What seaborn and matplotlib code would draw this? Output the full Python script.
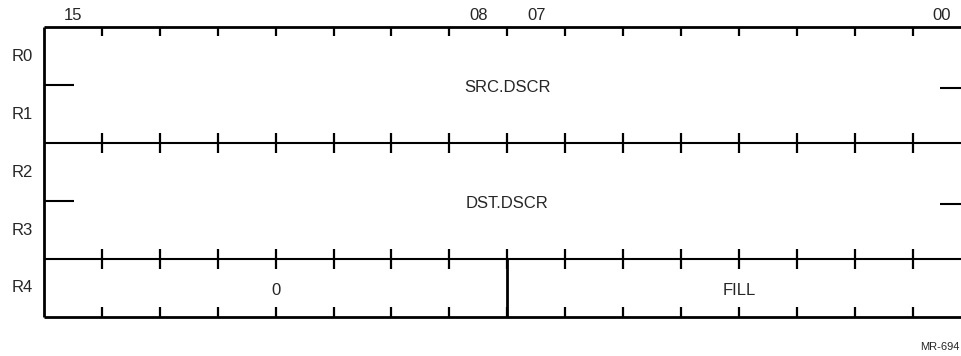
import matplotlib.pyplot as plt
import seaborn as sns

# register layout
registers = ["R0", "R1", "R2", "R3", "R4"]
bit_labels = ["15", "08", "07", "00"]
field_names = ["SRC.DSCR", "DST.DSCR", "0", "FILL"]
field_rows = [(0, 2), (2, 4), (4, 5), (4, 5)]      # first row, last row (exclusive)
field_bits = [(15, 0), (15, 0), (15, 8), (7, 0)]    # high bit, low bit
n_bits = 16

sns.set_theme(style="white")
plt.rcParams["font.family"] = ["Liberation Sans", "DejaVu Sans"]

fig = plt.figure(figsize=(9.61, 3.56), dpi=100)
ax = fig.add_axes([0, 0, 1, 1])
cell_px, row_px, x0_px, y0_px = 57.9, 58.0, 44, 27
ax.set_xlim(-x0_px / cell_px, (961 - x0_px) / cell_px)
ax.set_ylim((356 - y0_px) / row_px, -y0_px / row_px)
ax.axis("off")


def bit_x(bit):
    # left edge of a bit cell, bit 15 at x=0
    return n_bits - 1 - bit


right = ax.get_xlim()[1]
lw_outer, lw_inner, lw_tick = 2.0, 1.5, 1.6

# left border
ax.vlines(0, 0, len(registers), color="black", lw=lw_outer)

# horizontal boundaries between fields (lines run off the right edge)
bounds = sorted({r for rows in field_rows for r in rows})
for b in bounds:
    outer = b in (0, len(registers))
    ax.hlines(b, 0, right, color="black", lw=lw_outer if outer else lw_inner)
    for k in range(1, n_bits):
        if b == 0:
            ax.vlines(k, 0, 0.15, color="black", lw=lw_tick)
        elif b == len(registers):
            ax.vlines(k, b - 0.17, b, color="black", lw=lw_tick)
        else:
            ax.vlines(k, b - 0.17, b + 0.17, color="black", lw=lw_tick)

# stubs marking the word boundary inside two-word fields
for (r0, r1) in field_rows:
    for r in range(r0 + 1, r1):
        ax.hlines(r, 0, 0.52, color="black", lw=lw_inner)
        ax.hlines(r + 0.06, 15.47, right, color="black", lw=lw_inner)

# vertical dividers between fields in the same row
for (r0, r1), (hi, lo) in zip(field_rows, field_bits):
    if hi != n_bits - 1:
        ax.vlines(bit_x(hi), r0, r1, color="black", lw=lw_outer)

# field labels
for name, (r0, r1), (hi, lo) in zip(field_names, field_rows, field_bits):
    xc = (bit_x(hi) + bit_x(lo) + 1) / 2
    ax.text(xc, (r0 + r1) / 2 + 0.05, name, ha="center", va="center", fontsize=12)

# register names
for i, reg in enumerate(registers):
    ax.text(-0.37, i + 0.5, reg, ha="center", va="center", fontsize=12)

# bit numbers
for lab in bit_labels:
    ax.text(bit_x(int(lab)) + 0.5, -0.19, lab, ha="center", va="center", fontsize=12)

fig.text(0.978, 0.025, "MR-694", ha="center", va="center", fontsize=8)

fig.savefig("out.png", dpi=100)
